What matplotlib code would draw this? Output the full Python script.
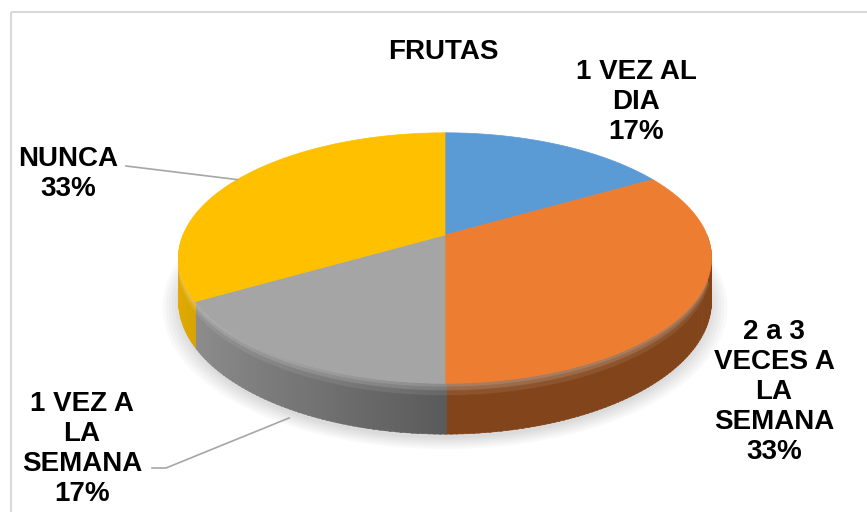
import numpy as np
import matplotlib
matplotlib.use("Agg")
import matplotlib.pyplot as plt
from matplotlib.patches import Polygon, Rectangle
import matplotlib.colors as mcolors

# ---------------- data ----------------
title = "FRUTAS"
categories = ["1 VEZ AL DIA", "2 a 3 VECES A LA SEMANA", "1 VEZ A LA SEMANA", "NUNCA"]
label_lines = ["1 VEZ AL\nDIA", "2 a 3\nVECES A\nLA\nSEMANA", "1 VEZ A\nLA\nSEMANA", "NUNCA"]
values = [1, 2, 1, 2]
colors = ["#5B9BD5", "#ED7D31", "#A5A5A5", "#FFC000"]

# ---------------- layout ----------------
W, H = 867, 512
fig = plt.figure(figsize=(W / 100, H / 100), dpi=100)
ax = fig.add_axes([0, 0, 1, 1])
ax.set_xlim(0, W)
ax.set_ylim(H, 0)
ax.axis("off")

cx, cy, rx, ry, k, depth = 445, 235, 262, 121, 0.184, 41


def proj(theta_deg, drop=0.0):
    t = np.radians(theta_deg)
    u, v = np.cos(t), np.sin(t)
    s = 1.0 / (1.0 + k * v)
    return cx + rx * u * s, cy - ry * v * s + drop * s


# chart frame
ax.add_patch(Rectangle((11, 12), 900, 560, fill=False, edgecolor="#D9D9D9", lw=1.5))

# soft shadow
ts = np.linspace(0, 360, 361)
for i, sc in enumerate(np.linspace(1.06, 1.0, 6)):
    xs, ys = proj(ts, depth + 4)
    xs = cx + (xs - cx) * sc
    ys = (cy + 25) + (ys - (cy + 25)) * sc
    ax.add_patch(Polygon(np.column_stack([xs, ys]), closed=True,
                         facecolor="#000000", alpha=0.025, edgecolor="none", zorder=1))

total = float(sum(values))
starts = []
a = 90.0
for v in values:
    a0 = a
    a1 = a - v / total * 360.0
    starts.append((a0, a1))
    a = a1

# side walls with shading and a soft rim highlight
bands = [(0, 3, 0.30), (3, 6, 0.20), (6, 10, 0.08), (10, depth, 0.0)]
for (a0, a1), col in zip(starts, colors):
    base = np.array(mcolors.to_rgb(col))
    steps = np.arange(a1, a0, 1.0)
    for t in steps:
        t2 = min(t + 1.0, a0)
        mid = 0.5 * (t + t2)
        if np.sin(np.radians(mid)) >= 0:
            continue
        f = 0.55 + 0.35 * max(0.0, -np.cos(np.radians(mid)))
        c0 = np.clip(base * f, 0, 1)
        for d0, d1, wmix in bands:
            c = c0 * (1 - wmix) + np.ones(3) * wmix
            x1, y1 = proj(t, d0)
            x2, y2 = proj(t2 + 0.3, d0)
            x3, y3 = proj(t2 + 0.3, d1 + 0.5)
            x4, y4 = proj(t, d1 + 0.5)
            ax.add_patch(Polygon([[x1, y1], [x2, y2], [x3, y3], [x4, y4]], closed=True,
                                 facecolor=c, edgecolor=c, lw=0.4, zorder=2))

# top faces
for (a0, a1), col in zip(starts, colors):
    tt = np.linspace(a0, a1, 120)
    xs, ys = proj(tt)
    pts = np.column_stack([np.r_[cx, xs], np.r_[cy, ys]])
    ax.add_patch(Polygon(pts, closed=True, facecolor=col, edgecolor=col, lw=0.5, zorder=4))

# labels
font = dict(family="Liberation Sans", fontsize=20, fontweight="bold", color="black")
ax.text(443, 52, title, ha="center", va="center", zorder=6, **font)

label_pos = [(636, 102), (774, 392), (82, 449), (68, 174)]
for i, (lab, v) in enumerate(zip(label_lines, values)):
    pct = int(round(v / total * 100))
    ax.text(label_pos[i][0], label_pos[i][1], f"{lab}\n{pct}%", ha="center", va="center",
            multialignment="center", linespacing=1.2, zorder=6, **font)

# leader lines
line_col = "#A6A6A6"
mid_n = 0.5 * (starts[3][0] + starts[3][1])
ex, ey = proj(mid_n)
ax.plot([126, ex], [166, ey], color=line_col, lw=1.2, zorder=5)
mid_g = 0.5 * (starts[2][0] + starts[2][1])
ex, ey = proj(mid_g, depth + 8)
ax.plot([152, 166, ex], [468, 468, ey], color=line_col, lw=1.2, zorder=5)

fig.savefig("out.png", dpi=100, facecolor="white")
